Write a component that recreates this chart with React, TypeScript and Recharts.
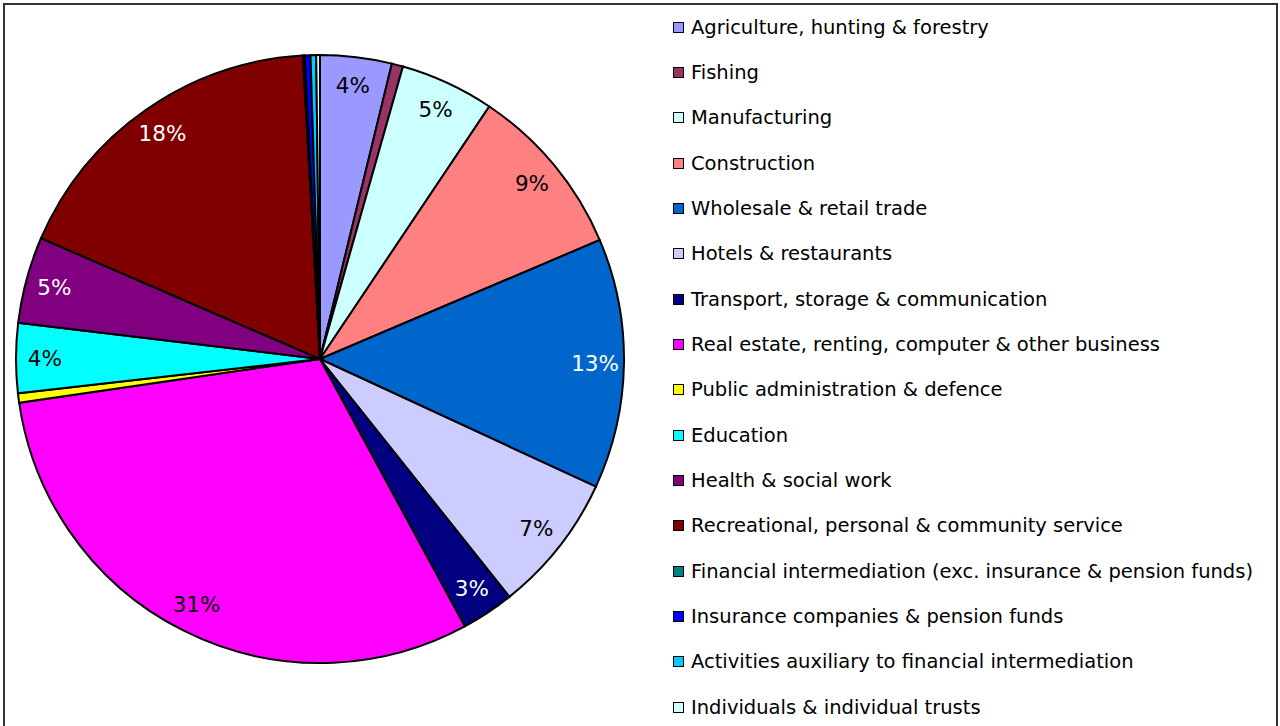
import React from "react";
import { PieChart, Pie, Cell } from "recharts";

const categories = [
  "Agriculture, hunting & forestry",
  "Fishing",
  "Manufacturing",
  "Construction",
  "Wholesale & retail trade",
  "Hotels & restaurants",
  "Transport, storage & communication",
  "Real estate, renting, computer & other business",
  "Public administration & defence",
  "Education",
  "Health & social work",
  "Recreational, personal & community service",
  "Financial intermediation (exc. insurance & pension funds)",
  "Insurance companies & pension funds",
  "Activities auxiliary to financial intermediation",
  "Individuals & individual trusts",
];

const values = [3.8, 0.6, 5.0, 9.2, 13.3, 7.4, 2.8, 30.6, 0.5, 3.7, 4.6, 17.6, 0.1, 0.3, 0.3, 0.2];

const colors = [
  "#9999FF", "#993366", "#CCFFFF", "#FF8080", "#0066CC", "#CCCCFF", "#000080", "#FF00FF",
  "#FFFF00", "#00FFFF", "#800080", "#800000", "#008080", "#0000FF", "#00CCFF", "#CCFFFF",
];

const labelColors = [
  "#000", "#000", "#000", "#000", "#fff", "#000", "#fff", "#000",
  "#000", "#000", "#fff", "#fff", "#000", "#000", "#000", "#000",
];

const data = categories.map((name, i) => ({ name, value: values[i] }));
const total = values.reduce((a, b) => a + b, 0);

const FONT = "Verdana, 'DejaVu Sans', sans-serif";

const RAD = Math.PI / 180;

const renderLabel = (props: any) => {
  const { cx, cy, midAngle, outerRadius, index, value } = props;
  const pct = Math.round((value / total) * 100);
  if (pct < 2) return null;
  const r = outerRadius * 0.905;
  const x = cx + r * Math.cos(-midAngle * RAD);
  const y = cy + r * Math.sin(-midAngle * RAD);
  return (
    <text
      x={x}
      y={y}
      fill={labelColors[index]}
      textAnchor="middle"
      dominantBaseline="central"
      fontFamily={FONT}
      fontSize={21.5}
    >
      {pct}%
    </text>
  );
};

const Legend = () => (
  <div style={{ position: "absolute", left: 673, top: 0 }}>
    {categories.map((c, i) => (
      <div
        key={c}
        style={{
          position: "absolute",
          left: 0,
          top: 27 + i * 45.35 - 12,
          height: 24,
          display: "flex",
          alignItems: "center",
          whiteSpace: "nowrap",
          fontFamily: FONT,
          fontSize: 19.5,
          color: "#000",
        }}
      >
        <span
          style={{
            display: "inline-block",
            width: 9,
            height: 9,
            background: colors[i],
            border: "1.5px solid #000",
            marginRight: 7,
          }}
        />
        {c}
      </div>
    ))}
  </div>
);

export default function App() {
  return (
    <div style={{ position: "absolute", left: 0, top: 0, width: 1280, height: 726, overflow: "hidden", background: "#fff" }}>
      <div
        style={{
          position: "absolute",
          left: 3,
          top: 3,
          width: 1271,
          height: 760,
          border: "2px solid #333",
        }}
      />
      <div style={{ position: "absolute", left: 0, top: 0 }}>
        <PieChart width={660} height={726} margin={{ top: 0, right: 0, bottom: 0, left: 0 }}>
          <Pie
            data={data}
            dataKey="value"
            nameKey="name"
            cx={320}
            cy={359}
            outerRadius={304}
            startAngle={90}
            endAngle={-270}
            stroke="#000"
            strokeWidth={2}
            label={renderLabel}
            labelLine={false}
            isAnimationActive={false}
          >
            {data.map((d, i) => (
              <Cell key={d.name} fill={colors[i]} />
            ))}
          </Pie>
        </PieChart>
      </div>
      <Legend />
    </div>
  );
}
